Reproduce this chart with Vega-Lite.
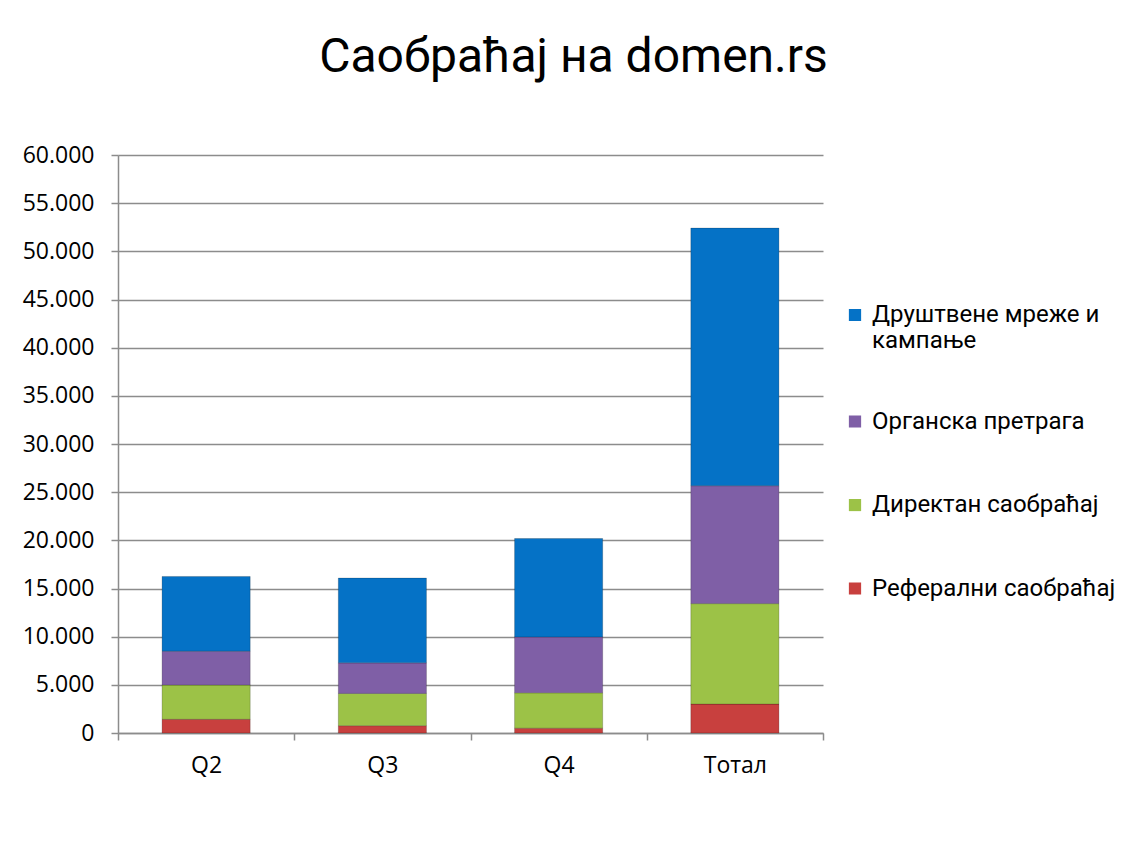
{
  "$schema": "https://vega.github.io/schema/vega-lite/v6.json",
  "autosize": {"type": "none"},
  "padding": {"left": 118, "top": 155, "right": 305, "bottom": 108},
  "width": 705,
  "height": 578,
  "background": "white",
  "title": {
    "text": "Саобраћај на domen.rs",
    "font": "Roboto",
    "fontSize": 48,
    "fontWeight": "normal",
    "color": "#000000",
    "anchor": "middle",
    "dx": 103,
    "offset": 62
  },
  "data": {
    "values": [
      {"quarter": "Q2", "series": "Реферални саобраћај", "value": 1420},
      {"quarter": "Q2", "series": "Директан саобраћај", "value": 3550},
      {"quarter": "Q2", "series": "Органска претрага", "value": 3520},
      {"quarter": "Q2", "series": "Друштвене мреже и кампање", "value": 7760},
      {"quarter": "Q3", "series": "Реферални саобраћај", "value": 760},
      {"quarter": "Q3", "series": "Директан саобраћај", "value": 3350},
      {"quarter": "Q3", "series": "Органска претрага", "value": 3170},
      {"quarter": "Q3", "series": "Друштвене мреже и кампање", "value": 8800},
      {"quarter": "Q4", "series": "Реферални саобраћај", "value": 500},
      {"quarter": "Q4", "series": "Директан саобраћај", "value": 3670},
      {"quarter": "Q4", "series": "Органска претрага", "value": 5800},
      {"quarter": "Q4", "series": "Друштвене мреже и кампање", "value": 10220},
      {"quarter": "Тотал", "series": "Реферални саобраћај", "value": 3000},
      {"quarter": "Тотал", "series": "Директан саобраћај", "value": 10430},
      {"quarter": "Тотал", "series": "Органска претрага", "value": 12240},
      {"quarter": "Тотал", "series": "Друштвене мреже и кампање", "value": 26740}
    ]
  },
  "transform": [
    {"calculate": "indexof(['Реферални саобраћај','Директан саобраћај','Органска претрага','Друштвене мреже и кампање'], datum.series)", "as": "stackOrder"}
  ],
  "mark": {"type": "bar", "stroke": "#00000033", "strokeWidth": 1, "width": {"band": 0.5}},
  "encoding": {
    "x": {
      "field": "quarter",
      "type": "nominal",
      "sort": ["Q2", "Q3", "Q4", "Тотал"],
      "scale": {"paddingInner": 0, "paddingOuter": 0},
      "axis": {
        "title": null,
        "labelAngle": 0,
        "labelFont": "Open Sans",
        "labelFontSize": 23,
        "labelColor": "#000000",
        "labelPadding": 14,
        "tickBand": "extent",
        "tickSize": 7,
        "tickColor": "#8c8c8c",
        "tickWidth": 1.5,
        "domainColor": "#8c8c8c",
        "domainWidth": 1.5,
        "grid": false
      }
    },
    "y": {
      "field": "value",
      "type": "quantitative",
      "stack": "zero",
      "scale": {"domain": [0, 60000], "nice": false},
      "axis": {
        "title": null,
        "values": [0, 5000, 10000, 15000, 20000, 25000, 30000, 35000, 40000, 45000, 50000, 55000, 60000],
        "labelExpr": "replace(format(datum.value, ','), ',', '.')",
        "labelFont": "Open Sans",
        "labelFontSize": 23,
        "labelColor": "#000000",
        "labelPadding": 17,
        "tickSize": 7,
        "tickColor": "#8c8c8c",
        "tickWidth": 1.5,
        "domainColor": "#8c8c8c",
        "domainWidth": 1.5,
        "grid": true,
        "gridColor": "#8c8c8c",
        "gridWidth": 1.5
      }
    },
    "color": {
      "field": "series",
      "type": "nominal",
      "scale": {
        "domain": ["Друштвене мреже и кампање", "Органска претрага", "Директан саобраћај", "Реферални саобраћај"],
        "range": ["#0572C6", "#7F5FA6", "#9CC247", "#C8403E"]
      },
      "legend": {
        "title": null,
        "orient": "none",
        "legendX": 725,
        "legendY": 145,
        "symbolType": "square",
        "symbolSize": 150,
        "symbolStrokeWidth": 0,
        "labelFont": "Roboto",
        "labelFontSize": 24,
        "labelColor": "#000000",
        "labelOffset": 5,
        "labelLimit": 400,
        "rowPadding": 53.5,
        "clipHeight": 30,
        "labelExpr": "datum.label == 'Друштвене мреже и кампање' ? ['Друштвене мреже и', 'кампање'] : datum.label",
        "labelBaseline": "middle"
      }
    },
    "order": {"field": "stackOrder", "type": "quantitative", "sort": "ascending"}
  },
  "config": {
    "view": {"stroke": null}
  }
}
